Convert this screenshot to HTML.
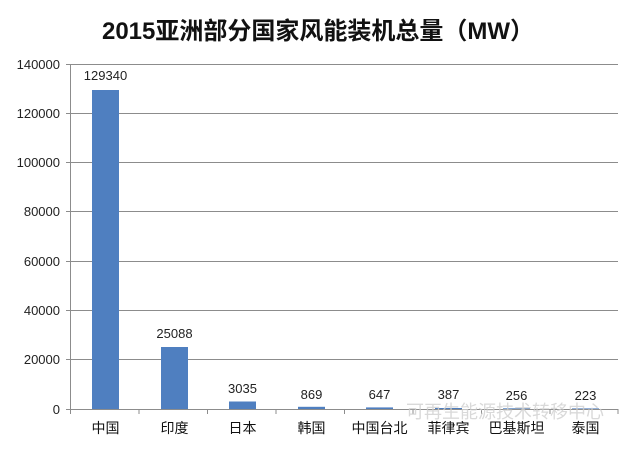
<!DOCTYPE html>
<html><head><meta charset="utf-8"><style>
body{margin:0;background:#fff;}
svg text{font-family:"Liberation Sans","Noto Sans CJK SC",sans-serif;}
</style></head><body>
<svg width="628" height="445" viewBox="0 0 628 445" xmlns="http://www.w3.org/2000/svg">
<rect width="628" height="445" fill="#fff"/>
<text x="318" y="39" text-anchor="middle" font-size="24" font-weight="bold" fill="#111">2015亚洲部分国家风能装机总量（MW）</text>
<g stroke="#8c8c8c" stroke-width="1">
<line x1="66" y1="64.5" x2="618" y2="64.5"/>
<line x1="66" y1="113.5" x2="618" y2="113.5"/>
<line x1="66" y1="162.5" x2="618" y2="162.5"/>
<line x1="66" y1="211.5" x2="618" y2="211.5"/>
<line x1="66" y1="261.5" x2="618" y2="261.5"/>
<line x1="66" y1="310.5" x2="618" y2="310.5"/>
<line x1="66" y1="359.5" x2="618" y2="359.5"/>
<line x1="66" y1="409.5" x2="618" y2="409.5"/>
<line x1="70.5" y1="64" x2="70.5" y2="414"/>
<line x1="139" y1="409" x2="139" y2="414"/><line x1="207.5" y1="409" x2="207.5" y2="414"/>
<line x1="276" y1="409" x2="276" y2="414"/><line x1="344.5" y1="409" x2="344.5" y2="414"/>
<line x1="413" y1="409" x2="413" y2="414"/><line x1="481.5" y1="409" x2="481.5" y2="414"/>
<line x1="550" y1="409" x2="550" y2="414"/><line x1="618" y1="409" x2="618" y2="414"/>
</g>
<g font-size="13" fill="#222" text-anchor="end">
<text x="60" y="69">140000</text><text x="60" y="118">120000</text><text x="60" y="167">100000</text>
<text x="60" y="216">80000</text><text x="60" y="266">60000</text><text x="60" y="315">40000</text>
<text x="60" y="364">20000</text><text x="60" y="414">0</text>
</g>
<g fill="#4f7fc0">
<rect x="92" y="90" width="27" height="319"/>
<rect x="161" y="347" width="27" height="62"/>
<rect x="229" y="401.5" width="27" height="7.5"/>
<rect x="298" y="406.8" width="27" height="2.2"/>
<rect x="366" y="407.4" width="27" height="1.6"/>
<rect x="435" y="408" width="27" height="1"/>
<rect x="503" y="408.3" width="27" height="0.7"/>
<rect x="572" y="408.4" width="27" height="0.6"/>
</g>
<g font-size="13" fill="#222" text-anchor="middle">
<text x="105.5" y="80">129340</text><text x="174.5" y="338">25088</text><text x="242.5" y="393">3035</text>
<text x="311.5" y="399">869</text><text x="379.5" y="399">647</text><text x="448.5" y="399">387</text>
<text x="516.5" y="400">256</text><text x="585.5" y="400">223</text>
</g>
<text x="505" y="418" font-size="18" fill="#d0d0d0" text-anchor="middle" opacity="0.8">可再生能源技术转移中心</text>
<g font-size="14" fill="#111" text-anchor="middle">
<text x="105.5" y="433">中国</text><text x="174.5" y="433">印度</text><text x="242.5" y="433">日本</text>
<text x="311.5" y="433">韩国</text><text x="379.5" y="433">中国台北</text><text x="448.5" y="433">菲律宾</text>
<text x="516.5" y="433">巴基斯坦</text><text x="585.5" y="433">泰国</text>
</g>
</svg>
</body></html>
